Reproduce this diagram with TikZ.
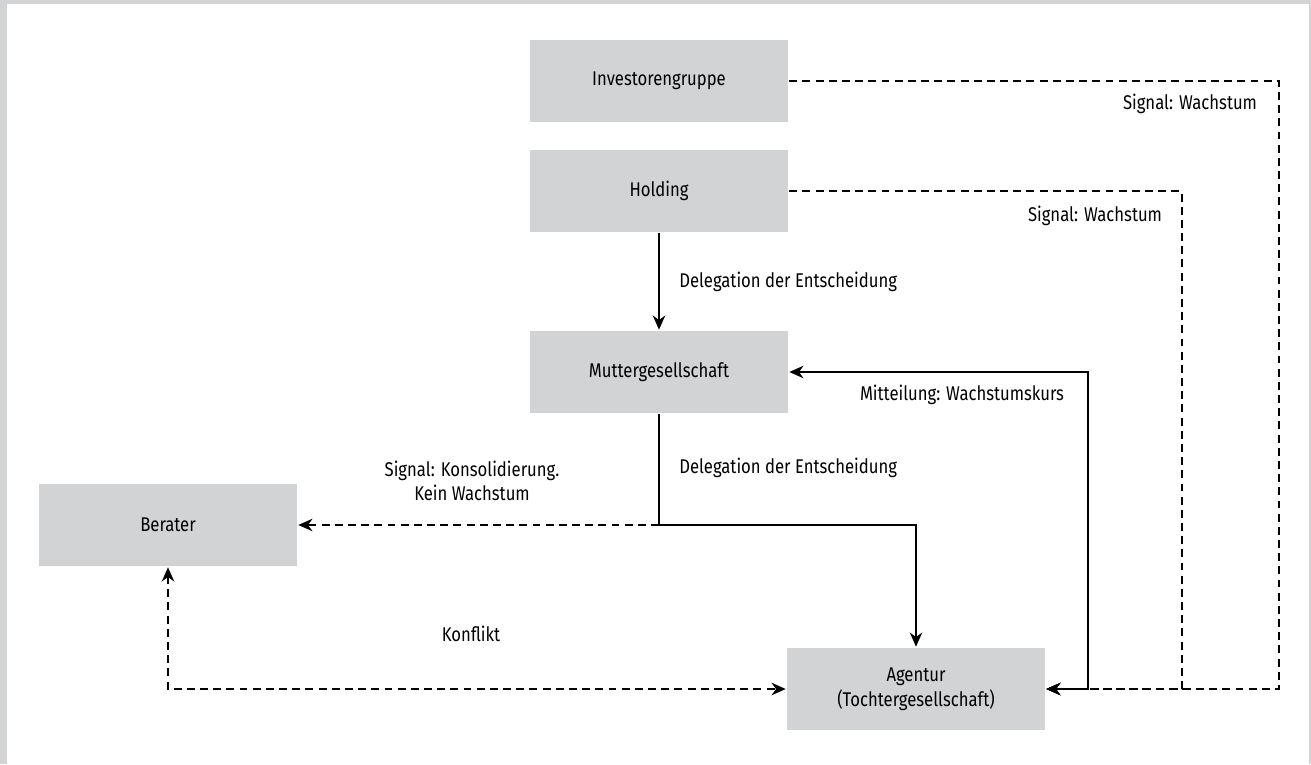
\documentclass[tikz,border=0pt]{standalone}
\usepackage{fontspec}
\setmainfont{Fira Sans}[FakeStretch=0.84]
\usetikzlibrary{positioning, arrows.meta}
\definecolor{boxgray}{RGB}{210,211,213}
\begin{document}
\begin{tikzpicture}[-{Stealth[length=8pt, width=7pt, inset=2.5pt]}, x=0.02cm, y=-0.02cm, line width=1.5pt,
            font=\fontsize{11.3}{14}\selectfont,
            box/.style ={rectangle, fill=boxgray, minimum width=5.16cm, minimum height=1.64cm,
            align=center, inner sep=0pt},
            lbl/.style ={align=center, inner sep=0pt},
            sig/.style ={dash pattern=on 4.5pt off 3pt}]

            % frame
            \fill[boxgray] (0,0) rectangle (1311,764);
            \fill[white] (7,4) rectangle (1309,764);
            \useasboundingbox (0,0) rectangle (1311,764);

            %\node [estilo] (nombre) at (x,y) {texto};
            \node[box] (inv) at (659, 81) {Investorengruppe};
            \node[box] (hold) at (659, 191) {Holding};
            \node[box] (mutter) at (659, 372) {Muttergesellschaft};
            \node[box] (berater) at (168, 525) {Berater};
            \node[box] (agentur) at (916, 689) {Agentur\\(Tochtergesellschaft)};

            \coordinate (split) at (659, 525);
            \coordinate (mitC) at (1088, 689);
            \coordinate (invC) at (1279, 689);
            \coordinate (holdC) at (1182, 689);
            \coordinate (konC) at (168, 689);

            % signals (dashed)
            \draw[sig] (inv.east) -| (invC) -- (agentur.east);
            \node[lbl] (sig1) at (1190, 104) {Signal: Wachstum};
            \draw[sig] (hold.east) -| (holdC) -- (agentur.east);
            \node[lbl] (sig2) at (1095, 216) {Signal: Wachstum};

            \draw (hold) -- node[lbl, right=0.38cm] {Delegation der Entscheidung} (mutter);
            \draw (mutter) -- (split) -| (agentur);
            \node[lbl, anchor=west] (del2) at (678, 468) {Delegation der Entscheidung};

            \draw[sig] (split) -- (berater);
            \node[lbl] (sigK) at (472, 481) {Signal: Konsolidierung.\\Kein Wachstum};

            \draw[{Stealth[length=8pt, width=7pt, inset=2.5pt]}-{Stealth[length=8pt, width=7pt, inset=2.5pt]}] (agentur.east) -- (mitC) |- (mutter.east);
            \node[lbl] (mit) at (962, 395) {Mitteilung: Wachstumskurs};

            \draw[sig, {Stealth[length=8pt, width=7pt, inset=2.5pt]}-{Stealth[length=8pt, width=7pt, inset=2.5pt]}] (berater.south) -- (konC) -- (agentur.west);
            \node[lbl] (kon) at (471, 634) {Konflikt};
        \end{tikzpicture}
\end{document}
